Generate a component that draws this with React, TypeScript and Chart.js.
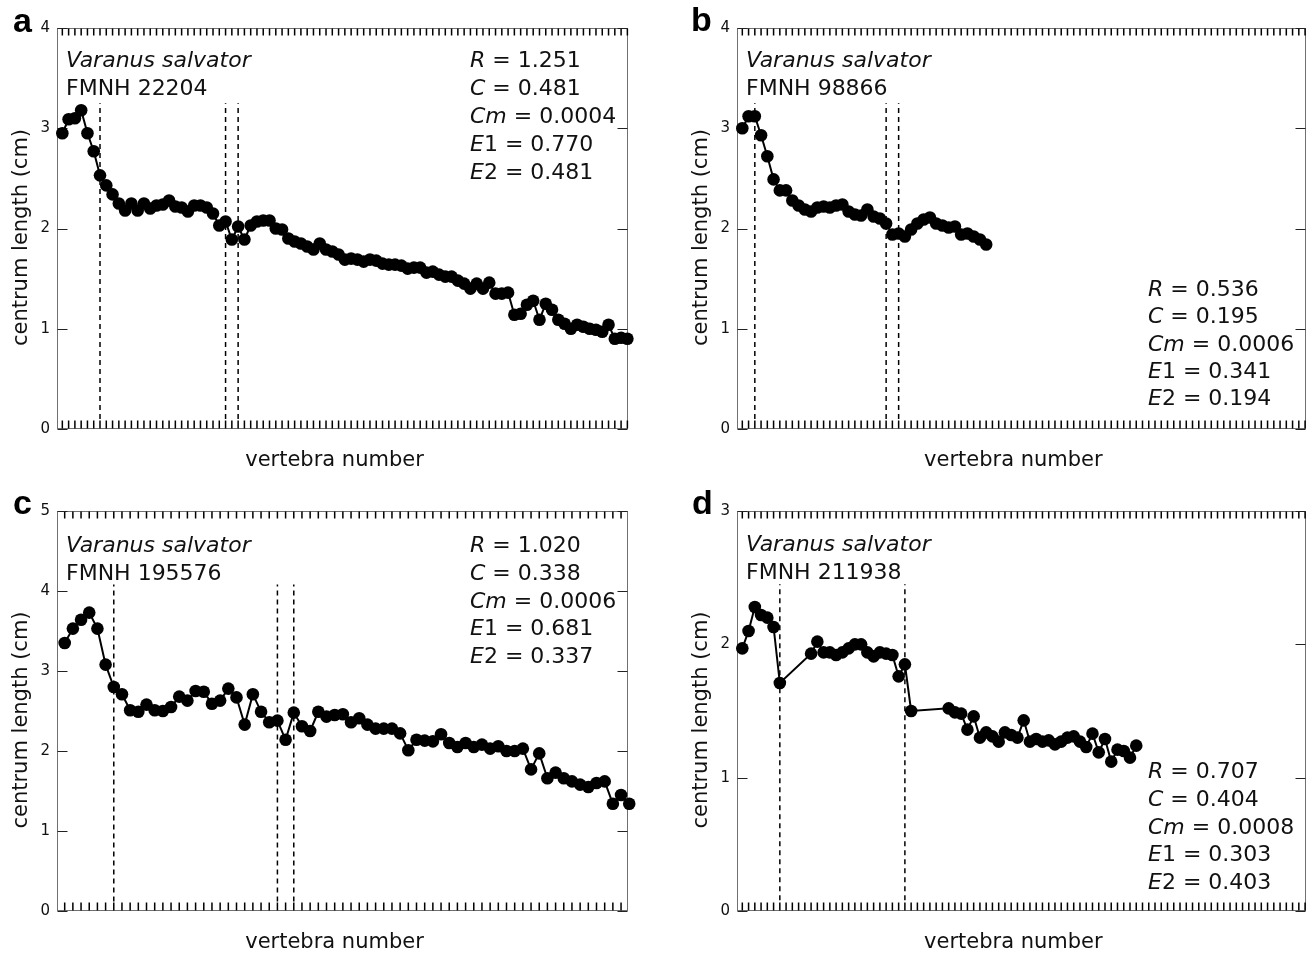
import React, { useEffect, useRef } from "react";
import { Chart, registerables } from "chart.js";

Chart.register(...registerables);

const FONT = '"DejaVu Sans", Verdana, sans-serif';
const LETTER_FONT = '"Liberation Sans", Arial, sans-serif';

// centrum length (cm) per vertebra (vertebra number = index + 1); null = missing
const lengthA = [
  2.95, 3.09, 3.10, 3.18, 2.95, 2.77, 2.53, 2.43, 2.34, 2.25,
  2.18, 2.25, 2.18, 2.25, 2.20, 2.23, 2.24, 2.28, 2.22, 2.21,
  2.17, 2.23, 2.23, 2.21, 2.15, 2.03, 2.07, 1.89, 2.02, 1.89,
  2.03, 2.07, 2.08, 2.08, 2.00, 1.99, 1.90, 1.87, 1.85, 1.82,
  1.79, 1.85, 1.79, 1.77, 1.74, 1.69, 1.70, 1.69, 1.67, 1.69,
  1.68, 1.65, 1.64, 1.64, 1.63, 1.60, 1.61, 1.61, 1.56, 1.57,
  1.54, 1.52, 1.52, 1.48, 1.45, 1.40, 1.45, 1.40, 1.46, 1.35,
  1.35, 1.36, 1.14, 1.15, 1.24, 1.28, 1.09, 1.25, 1.19, 1.09,
  1.05, 1.00, 1.04, 1.02, 1.00, 0.99, 0.97, 1.04, 0.90, 0.91, 0.90,
];
const lengthB = [
  3.00, 3.12, 3.12, 2.93, 2.72, 2.49, 2.38, 2.38, 2.28, 2.23,
  2.19, 2.17, 2.21, 2.22, 2.21, 2.23, 2.24, 2.17, 2.14, 2.13,
  2.19, 2.12, 2.10, 2.05, 1.94, 1.95, 1.92, 1.99, 2.05, 2.09,
  2.11, 2.05, 2.03, 2.01, 2.02, 1.94, 1.95, 1.92, 1.89, 1.84,
];
const lengthC = [
  3.35, 3.53, 3.64, 3.73, 3.53, 3.08, 2.80, 2.71, 2.51, 2.49,
  2.58, 2.51, 2.50, 2.55, 2.68, 2.63, 2.75, 2.74, 2.59, 2.63,
  2.78, 2.67, 2.33, 2.71, 2.49, 2.36, 2.38, 2.14, 2.48, 2.31,
  2.25, 2.49, 2.43, 2.45, 2.46, 2.36, 2.41, 2.33, 2.28, 2.28,
  2.28, 2.22, 2.01, 2.14, 2.13, 2.12, 2.21, 2.10, 2.05, 2.10,
  2.05, 2.08, 2.03, 2.06, 2.00, 2.00, 2.03, 1.77, 1.97, 1.66,
  1.73, 1.66, 1.62, 1.58, 1.55, 1.60, 1.62, 1.34, 1.45, 1.34,
];
const lengthD = [
  1.97, 2.10, 2.28, 2.22, 2.20, 2.13, 1.71, null, null, null,
  null, 1.93, 2.02, 1.94, 1.94, 1.92, 1.94, 1.97, 2.00, 2.00,
  1.94, 1.91, 1.94, 1.93, 1.92, 1.76, 1.85, 1.50, null, null,
  null, null, null, 1.52, 1.49, 1.48, 1.36, 1.46, 1.30, 1.34,
  1.31, 1.27, 1.34, 1.32, 1.30, 1.43, 1.27, 1.29, 1.27, 1.28,
  1.25, 1.27, 1.30, 1.31, 1.27, 1.23, 1.33, 1.19, 1.29, 1.12,
  1.21, 1.20, 1.15, 1.24,
];

// region boundaries (vertebra numbers)
const dividersA = [7, 27, 29];
const dividersB = [3, 24, 26];
const dividersC = [7, 27, 29];
const dividersD = [7, 27];

// fitted parameters: R, C, Cm, E1, E2
const statNames = [["R", ""], ["C", ""], ["Cm", ""], ["E", "1"], ["E", "2"]];
const statsA = ["1.251", "0.481", "0.0004", "0.770", "0.481"];
const statsB = ["0.536", "0.195", "0.0006", "0.341", "0.194"];
const statsC = ["1.020", "0.338", "0.0006", "0.681", "0.337"];
const statsD = ["0.707", "0.404", "0.0008", "0.303", "0.403"];

const speciesName = "Varanus salvator";
const specimens = ["FMNH 22204", "FMNH 98866", "FMNH 195576", "FMNH 211938"];
const panelLetters = ["a", "b", "c", "d"];
const yMaxes = [4, 4, 5, 3];
const xTitle = "vertebra number";
const yTitle = "centrum length (cm)";

type Panel = {
  values: (number | null)[];
  dividers: number[];
  divLow: number;
  divHigh: number;
  stats: string[];
  specimen: string;
  letter: string;
  yMax: number;
  xMin: number;
  xMax: number;
  left: number;
  top: number;
  width: number;
  height: number;
  padding: { left: number; right: number; top: number; bottom: number };
  letterPos: [number, number];
  speciesPos: [number, number];
  statsPos: [number, number];
  statsStep: number;
};

const panels: Panel[] = [
  {
    values: lengthA, dividers: dividersA, divLow: 0.1, divHigh: 3.25, stats: statsA,
    specimen: specimens[0], letter: panelLetters[0], yMax: yMaxes[0], xMin: 0.15, xMax: 91.1,
    left: 0, top: 0, width: 656, height: 478,
    padding: { left: 57, right: 28, top: 28, bottom: 49 },
    letterPos: [13, 32], speciesPos: [66, 67], statsPos: [470, 67], statsStep: 28,
  },
  {
    values: lengthB, dividers: dividersB, divLow: 0.1, divHigh: 3.25, stats: statsB,
    specimen: specimens[1], letter: panelLetters[1], yMax: yMaxes[1], xMin: 0.15, xMax: 91.1,
    left: 656, top: 0, width: 656, height: 478,
    padding: { left: 81, right: 4, top: 28, bottom: 49 },
    letterPos: [35, 31], speciesPos: [90, 67], statsPos: [492, 296], statsStep: 27.3,
  },
  {
    values: lengthC, dividers: dividersC, divLow: 0.12, divHigh: 4.08, stats: statsC,
    specimen: specimens[2], letter: panelLetters[2], yMax: yMaxes[2], xMin: 0.06, xMax: 69.85,
    left: 0, top: 478, width: 656, height: 478,
    padding: { left: 57, right: 28, top: 33, bottom: 45 },
    letterPos: [13, 36], speciesPos: [66, 74], statsPos: [470, 74], statsStep: 27.8,
  },
  {
    values: lengthD, dividers: dividersD, divLow: 0.08, divHigh: 2.45, stats: statsD,
    specimen: specimens[3], letter: panelLetters[3], yMax: yMaxes[3], xMin: 0.15, xMax: 91.1,
    left: 656, top: 478, width: 656, height: 478,
    padding: { left: 81, right: 4, top: 33, bottom: 45 },
    letterPos: [36, 36], speciesPos: [90, 73], statsPos: [492, 300], statsStep: 27.8,
  },
];

function frameBox(ca: any) {
  return {
    L: Math.round(ca.left) + 0.5,
    R: Math.round(ca.right) - 0.5,
    T: Math.round(ca.top) + 0.5,
    B: Math.round(ca.bottom) - 0.5,
  };
}

const decorPlugin = {
  id: "decor",
  beforeDatasetsDraw(chart: any, _args: any, opts: any) {
    const { ctx, chartArea: ca, scales } = chart;
    const xs = scales.x;
    const ys = scales.y;
    const p: Panel = opts.panel;
    const { L, R, T, B } = frameBox(ca);
    ctx.save();
    ctx.setLineDash([]);
    // frame
    ctx.strokeStyle = "#707070";
    ctx.lineWidth = 1;
    ctx.strokeRect(L, T, R - L, B - T);
    // minor ticks: one per vertebra, pointing inward from bottom and top
    ctx.strokeStyle = "#000";
    ctx.lineWidth = 1.5;
    const nTicks = Math.floor(p.xMax);
    for (let v = 1; v <= nTicks; v++) {
      const px = xs.getPixelForValue(v);
      ctx.beginPath();
      ctx.moveTo(px, B);
      ctx.lineTo(px, B - 8);
      ctx.moveTo(px, T);
      ctx.lineTo(px, T + 7);
      ctx.stroke();
    }
    // major y ticks, left and right
    ctx.lineWidth = 1;
    ctx.strokeStyle = "#222";
    for (let v = 0; v <= p.yMax; v++) {
      const py = Math.round(ys.getPixelForValue(v)) + 0.5;
      ctx.beginPath();
      ctx.moveTo(L, py);
      ctx.lineTo(L + 10, py);
      ctx.moveTo(R, py);
      ctx.lineTo(R - 10, py);
      ctx.stroke();
    }
    // y tick labels
    ctx.fillStyle = "#111";
    ctx.font = `15px ${FONT}`;
    ctx.textAlign = "right";
    ctx.textBaseline = "middle";
    for (let v = 0; v <= p.yMax; v++) {
      ctx.fillText(String(v), ca.left - 7, ys.getPixelForValue(v));
    }
    // axis titles
    ctx.font = `21px ${FONT}`;
    ctx.textAlign = "center";
    ctx.fillText(xTitle, (ca.left + ca.right) / 2 - 8, ca.bottom + 32);
    ctx.save();
    ctx.translate(ca.left - 35, (ca.top + ca.bottom) / 2 + 9);
    ctx.rotate(-Math.PI / 2);
    ctx.fillText(yTitle, 0, 0);
    ctx.restore();
    ctx.restore();
  },
  afterDraw(chart: any, _args: any, opts: any) {
    const { ctx } = chart;
    const p: Panel = opts.panel;
    ctx.save();
    ctx.fillStyle = "#000";
    ctx.textBaseline = "alphabetic";
    ctx.textAlign = "left";
    // panel letter
    ctx.font = `bold 34px ${LETTER_FONT}`;
    ctx.fillText(p.letter, p.letterPos[0], p.letterPos[1]);
    // species & specimen
    ctx.fillStyle = "#111";
    ctx.font = `italic 22px ${FONT}`;
    ctx.fillText(speciesName, p.speciesPos[0], p.speciesPos[1]);
    ctx.font = `22px ${FONT}`;
    ctx.fillText(p.specimen, p.speciesPos[0], p.speciesPos[1] + 28);
    // stats
    p.stats.forEach((val, i) => {
      const [it, sub] = statNames[i];
      const x = p.statsPos[0];
      const y = p.statsPos[1] + i * p.statsStep;
      ctx.font = `italic 22px ${FONT}`;
      ctx.fillText(it, x, y);
      const w = ctx.measureText(it).width;
      ctx.font = `22px ${FONT}`;
      ctx.fillText(`${sub} = ${val}`, x + w, y);
    });
    ctx.restore();
  },
};

function PanelChart({ p }: { p: Panel }) {
  const ref = useRef<HTMLCanvasElement | null>(null);
  useEffect(() => {
    if (!ref.current) return;
    const points = p.values
      .map((v, i) => (v === null ? null : { x: i + 1, y: v }))
      .filter((d) => d !== null) as { x: number; y: number }[];
    const dividerSets = p.dividers.map((d) => ({
      data: [
        { x: d, y: p.divLow },
        { x: d, y: p.divHigh },
      ],
      borderColor: "#000",
      backgroundColor: "rgba(0,0,0,0)",
      borderWidth: 1.5,
      borderDash: [5, 4],
      pointRadius: 0,
      fill: false,
    }));
    const chart = new Chart(ref.current, {
      type: "line",
      data: {
        datasets: [
          {
            data: points,
            borderColor: "#000",
            backgroundColor: "#000",
            borderWidth: 2,
            pointRadius: 6.3,
            pointBorderWidth: 0,
            pointBackgroundColor: "#000",
            fill: false,
            tension: 0,
            clip: false,
          } as any,
          ...dividerSets,
        ],
      },
      options: {
        animation: false,
        responsive: false,
        maintainAspectRatio: false,
        layout: { padding: p.padding },
        scales: {
          x: { type: "linear", min: p.xMin, max: p.xMax, display: false },
          y: { type: "linear", min: 0, max: p.yMax, display: false },
        },
        plugins: {
          legend: { display: false },
          tooltip: { enabled: false },
          decor: { panel: p },
        } as any,
        events: [],
      },
      plugins: [decorPlugin],
    });
    return () => chart.destroy();
  }, [p]);
  return (
    <canvas
      ref={ref}
      width={p.width}
      height={p.height}
      style={{
        position: "absolute",
        left: p.left,
        top: p.top,
        width: p.width,
        height: p.height,
      }}
    />
  );
}

export default function App() {
  return (
    <div
      style={{
        position: "absolute",
        left: 0,
        top: 0,
        width: 1312,
        height: 956,
        background: "#fff",
      }}
    >
      {panels.map((p) => (
        <PanelChart key={p.letter} p={p} />
      ))}
    </div>
  );
}
